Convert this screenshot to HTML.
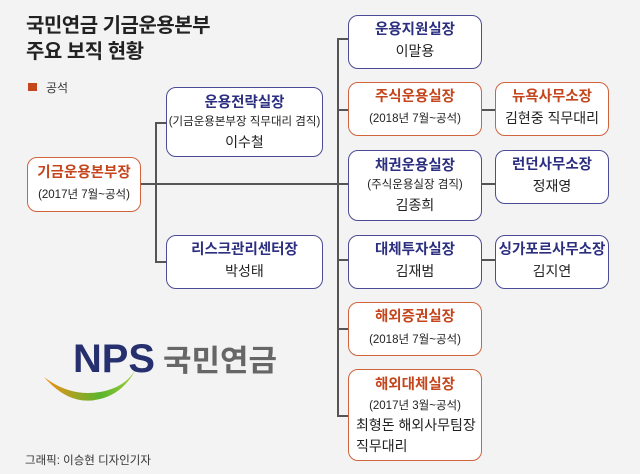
<!DOCTYPE html>
<html><head><meta charset="utf-8"><style>
body{margin:0;width:640px;height:474px;background:#f3f3f3;font-family:"Liberation Sans","Noto Sans CJK KR",sans-serif;position:relative;overflow:hidden}
.t{position:absolute;left:26px;top:13px;font-size:20px;font-weight:bold;line-height:26px;color:#222;letter-spacing:-0.5px}
.b{position:absolute;background:#fff;border:1.5px solid #4a4c95;border-radius:10px;box-sizing:border-box;text-align:center;color:#222}
.o{border-color:#d0623c}
.h{font-weight:bold;font-size:14.5px;color:#2c2f80;margin-top:6px;line-height:20px}
.o .h{color:#c5461d}
.s{font-size:11.5px;line-height:18px}
.n{font-size:14px;line-height:22px}
.l{position:absolute;background:#555}
</style></head><body>
<div class="t">국민연금 기금운용본부<br>주요 보직 현황</div>
<div style="position:absolute;left:28px;top:83px;width:9px;height:8px;background:#c5461d"></div>
<div style="position:absolute;left:46px;top:79px;font-size:12px;color:#333">공석</div>

<div class="l" style="left:141px;top:183px;width:196px;height:1.5px"></div>
<div class="l" style="left:155px;top:122px;width:1.5px;height:140px"></div>
<div class="l" style="left:155px;top:122px;width:11px;height:1.5px"></div>
<div class="l" style="left:155px;top:261px;width:11px;height:1.5px"></div>
<div class="l" style="left:337px;top:38px;width:1.5px;height:378px"></div>
<div class="l" style="left:337px;top:38px;width:11px;height:1.5px"></div>
<div class="l" style="left:337px;top:109px;width:11px;height:1.5px"></div>
<div class="l" style="left:337px;top:183px;width:11px;height:1.5px"></div>
<div class="l" style="left:337px;top:259px;width:11px;height:1.5px"></div>
<div class="l" style="left:337px;top:328px;width:11px;height:1.5px"></div>
<div class="l" style="left:337px;top:415px;width:11px;height:1.5px"></div>
<div class="l" style="left:482px;top:109px;width:13px;height:1.5px"></div>
<div class="l" style="left:482px;top:183px;width:13px;height:1.5px"></div>
<div class="l" style="left:482px;top:259px;width:13px;height:1.5px"></div>

<div class="b o" style="left:27px;top:157px;width:114px;height:55px"><div class="h" style="margin-top:5px">기금운용본부장</div><div class="s" style="margin-top:3px">(2017년 7월~공석)</div></div>
<div class="b" style="left:166px;top:87px;width:157px;height:70px"><div class="h" style="margin-top:5px">운용전략실장</div><div class="s">(기금운용본부장 직무대리 겸직)</div><div class="n">이수철</div></div>
<div class="b" style="left:166px;top:235px;width:157px;height:54px"><div class="h" style="margin-top:4px">리스크관리센터장</div><div class="n">박성태</div></div>

<div class="b" style="left:348px;top:15px;width:134px;height:54px"><div class="h" style="margin-top:4px">운용지원실장</div><div class="n">이말용</div></div>
<div class="b o" style="left:348px;top:82px;width:134px;height:54px"><div class="h" style="margin-top:4px">주식운용실장</div><div class="s" style="margin-top:3px">(2018년 7월~공석)</div></div>
<div class="b" style="left:348px;top:150px;width:134px;height:71px"><div class="h" style="margin-top:5px">채권운용실장</div><div class="s">(주식운용실장 겸직)</div><div class="n">김종희</div></div>
<div class="b" style="left:348px;top:235px;width:134px;height:54px"><div class="h" style="margin-top:4px">대체투자실장</div><div class="n">김재범</div></div>
<div class="b o" style="left:348px;top:302px;width:134px;height:54px"><div class="h" style="margin-top:4px">해외증권실장</div><div class="s" style="margin-top:4px">(2018년 7월~공석)</div></div>
<div class="b o" style="left:348px;top:369px;width:134px;height:92px"><div class="h" style="margin-top:5px">해외대체실장</div><div class="s" style="margin-top:2px">(2017년 3월~공석)</div><div class="n" style="text-align:left;padding-left:7px;line-height:21px">최형돈 해외사무팀장<br>직무대리</div></div>

<div class="b o" style="left:495px;top:82px;width:114px;height:54px"><div class="h" style="margin-top:4px">뉴욕사무소장</div><div class="n">김현중 직무대리</div></div>
<div class="b" style="left:495px;top:150px;width:114px;height:54px"><div class="h" style="margin-top:4px">런던사무소장</div><div class="n">정재영</div></div>
<div class="b" style="left:495px;top:235px;width:114px;height:54px"><div class="h" style="margin-top:4px">싱가포르사무소장</div><div class="n">김지연</div></div>

<svg style="position:absolute;left:40px;top:335px" width="250" height="70">
<defs><linearGradient id="g" x1="0" x2="1"><stop offset="0" stop-color="#f39019"/><stop offset="0.6" stop-color="#5bb52c"/><stop offset="1" stop-color="#a6cf3a"/></linearGradient></defs>
<path d="M4,42 Q30,72 60,64 Q85,58 98,30 Q88,52 60,57 Q30,62 4,42Z" fill="url(#g)"/>
<text x="33" y="37" font-family="Liberation Sans" font-weight="bold" font-size="40" fill="#27306f" textLength="82" lengthAdjust="spacingAndGlyphs">NPS</text>
<text x="123" y="36" font-family="Liberation Sans,Noto Sans CJK KR" font-weight="bold" font-size="30" fill="#666" textLength="114" lengthAdjust="spacingAndGlyphs">국민연금</text>
</svg>
<div style="position:absolute;left:25px;top:452px;font-size:11.5px;color:#333">그래픽: 이승현 디자인기자</div>
</body></html>
